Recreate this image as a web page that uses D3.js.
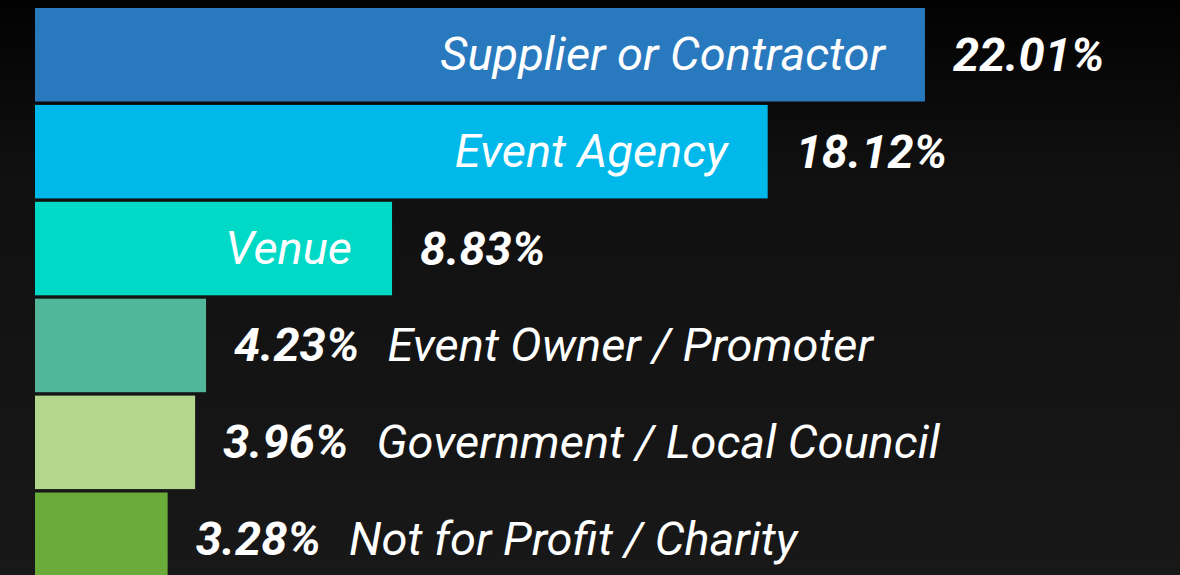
<!DOCTYPE html>
<html>
<head>
<meta charset="utf-8">
<script src="https://cdn.jsdelivr.net/npm/d3@7"></script>
<style>
  html, body { margin: 0; padding: 0; background: #111; }
  svg { display: block; }
</style>
</head>
<body>
<div id="chart"></div>
<script>
// data
const categories = [
  'Supplier or Contractor',
  'Event Agency',
  'Venue',
  'Event Owner / Promoter',
  'Government / Local Council',
  'Not for Profit / Charity',
]
const shares = [22.01, 18.12, 8.83, 4.23, 3.96, 3.28]
const barColors = ['#2979bf', '#00b8ea', '#00d9c6', '#52b69a', '#b2d68c', '#6aab3a']
// first three bars carry their name inside the bar
const labelInside = [true, true, true, false, false, false]

const data = categories.map((c, i) => ({
  name: c,
  value: shares[i],
  color: barColors[i],
  inside: labelInside[i],
}))

const width = 1180
const height = 575

const svg = d3
  .select('#chart')
  .append('svg')
  .attr('width', width)
  .attr('height', height)

// dark background, black at the top
const defs = svg.append('defs')
const grad = defs
  .append('linearGradient')
  .attr('id', 'bg')
  .attr('x1', 0)
  .attr('y1', 0)
  .attr('x2', 0)
  .attr('y2', 1)
grad.append('stop').attr('offset', '0%').attr('stop-color', '#020202')
grad.append('stop').attr('offset', '30%').attr('stop-color', '#101010')
grad.append('stop').attr('offset', '100%').attr('stop-color', '#181818')

svg.append('rect').attr('width', width).attr('height', height).attr('fill', 'url(#bg)')

const x = d3.scaleLinear().domain([0, 23]).range([35, 965])

const y = d3
  .scaleBand()
  .domain(categories)
  .range([8, 586])
  .paddingInner(0.035)
  .paddingOuter(0)

const fontSize = 47
const pctFmt = (v) => d3.format('.2f')(v) + '%'

// bars
svg
  .selectAll('rect.bar')
  .data(data)
  .join('rect')
  .attr('class', 'bar')
  .attr('x', x(0))
  .attr('y', (d) => y(d.name))
  .attr('width', (d) => x(d.value) - x(0))
  .attr('height', y.bandwidth())
  .attr('fill', (d) => d.color)

// names inside the long bars
svg
  .selectAll('text.inner')
  .data(data.filter((d) => d.inside))
  .join('text')
  .attr('class', 'inner')
  .attr('x', (d) => x(d.value) - 40)
  .attr('y', (d) => y(d.name) + y.bandwidth() / 2)
  .attr('dy', '0.32em')
  .attr('text-anchor', 'end')
  .style('font-family', 'Roboto, sans-serif')
  .style('font-style', 'italic')
  .style('font-size', fontSize + 'px')
  .style('fill', '#fff')
  .text((d) => d.name)

// value labels (+ names for the short bars)
const lab = svg
  .selectAll('text.value')
  .data(data)
  .join('text')
  .attr('class', 'value')
  .attr('x', (d) => x(d.value) + 28)
  .attr('y', (d) => y(d.name) + y.bandwidth() / 2)
  .attr('dy', '0.34em')
  .style('font-family', 'Roboto, sans-serif')
  .style('font-style', 'italic')
  .style('font-size', fontSize + 'px')
  .style('fill', '#fff')

lab.append('tspan').style('font-weight', 700).text((d) => pctFmt(d.value))

lab
  .filter((d) => !d.inside)
  .append('tspan')
  .attr('dx', 28)
  .style('font-weight', 400)
  .text((d) => d.name)
</script>
</body>
</html>
